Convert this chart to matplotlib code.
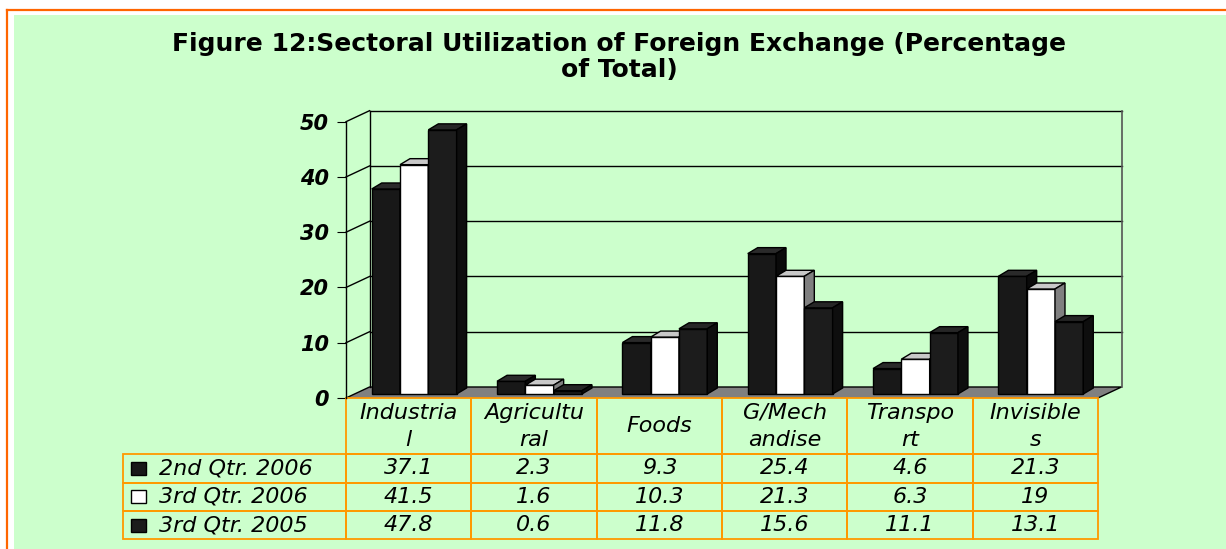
import numpy as np
import matplotlib
matplotlib.use('Agg')
import matplotlib.pyplot as plt
from matplotlib.patches import Polygon, Rectangle
from matplotlib.lines import Line2D
from matplotlib.table import Table

# ---------------------------------------------------------------------
# Data
categories = ['Industria\nl', 'Agricultu\nral', 'Foods', 'G/Mech\nandise', 'Transpo\nrt', 'Invisible\ns']
series = ['2nd Qtr. 2006', '3rd Qtr. 2006', '3rd Qtr. 2005']
q2_2006 = [37.1, 2.3, 9.3, 25.4, 4.6, 21.3]
q3_2006 = [41.5, 1.6, 10.3, 21.3, 6.3, 19]
q3_2005 = [47.8, 0.6, 11.8, 15.6, 11.1, 13.1]
yticks = [0, 10, 20, 30, 40, 50]

title = 'Figure 12:Sectoral Utilization of Foreign Exchange (Percentage\nof Total)'

# ---------------------------------------------------------------------
# Styles: (front, top, side) per series
front_colors = ['#181818', '#ffffff', '#1c1c1c']
top_colors = ['#2a2a2a', '#c8c8c8', '#262626']
side_colors = ['#0a0a0a', '#808080', '#0e0e0e']
GREEN = '#CCFFCC'
ORANGE = '#FF9900'
FRAME = '#FF6600'

# Layout in pixels (figure is 1226x549 at dpi 100)
W, H = 1226, 549
AX_L, AX_R = 346, 1098
AX_T, AX_B = 121.7, 398
BACK_PX = (23.5, 11.0)     # offset of back wall
BAR_OFF_PX = (5.5, 4.0)    # front face of bars sits a bit behind the front plane
DEPTH_PX = (10.0, 6.0)     # bar depth
BAR_W_PX = 28.3

fig = plt.figure(figsize=(W / 100, H / 100), dpi=100)
fig.patch.set_facecolor('white')

# green panel + orange frame
fig.patches.append(Rectangle((14 / W, 0), 1 - 14 / W, 1 - 15 / H, transform=fig.transFigure,
                             facecolor=GREEN, edgecolor='none', zorder=-5))
fig.lines.append(Line2D([7 / W, 1], [1 - 10 / H, 1 - 10 / H], transform=fig.transFigure,
                        color=FRAME, lw=1.6, zorder=-4))
fig.lines.append(Line2D([7 / W, 7 / W], [0, 1 - 10 / H], transform=fig.transFigure,
                        color=FRAME, lw=1.6, zorder=-4))

fig.text(619 / W, 1 - 57 / H, title, ha='center', va='center',
         fontsize=18, fontweight='bold', linespacing=1.1)

ax = fig.add_axes((AX_L / W, 1 - AX_B / H, (AX_R - AX_L) / W, (AX_B - AX_T) / H))
ax.set_facecolor('none')
ncat = len(categories)
ax.set_xlim(0, ncat)
ax.set_ylim(0, 50)

sx = (AX_R - AX_L) / ncat
sy = (AX_B - AX_T) / 50.
bx, by = BACK_PX[0] / sx, BACK_PX[1] / sy
ox, oy = BAR_OFF_PX[0] / sx, BAR_OFF_PX[1] / sy
dx, dy = DEPTH_PX[0] / sx, DEPTH_PX[1] / sy
bw = BAR_W_PX / sx

# ---------- floor and back wall
ax.add_patch(Polygon([(0, 0), (ncat, 0), (ncat + bx, by), (bx, by)],
                     facecolor='#808080', edgecolor='none', clip_on=False, zorder=1))
ax.plot([0, bx, ncat + bx, ncat], [0, by, by, 0], color='black', lw=1, clip_on=False, zorder=1.5)
for k in yticks[1:]:
    ax.plot([bx, ncat + bx], [k + by, k + by], color='black', lw=1, clip_on=False, zorder=1.5)
for k in yticks[1:]:
    ax.plot([0, bx], [k, k + by], color='black', lw=1, clip_on=False, zorder=1.5)
ax.plot([bx, bx], [by, 50 + by], color='black', lw=1, clip_on=False, zorder=1.5)
ax.plot([ncat + bx, ncat + bx], [by, 50 + by], color='#555555', lw=1.2, clip_on=False, zorder=1.5)

# ---------- 3D bars
xc = np.arange(ncat) + 0.5
for j, vals in enumerate([q2_2006, q3_2006, q3_2005]):
    x = xc + (j - 1) * bw + ox
    rects = ax.bar(x, vals, bw, bottom=oy, color=front_colors[j], edgecolor='black',
                   lw=1, clip_on=False, zorder=3 + j)
    for r in rects:
        x0 = r.get_x()
        x1 = x0 + r.get_width()
        top = r.get_y() + r.get_height()
        ax.add_patch(Polygon([(x0, top), (x1, top), (x1 + dx, top + dy), (x0 + dx, top + dy)],
                             facecolor=top_colors[j], edgecolor='black', lw=1,
                             clip_on=False, zorder=3 + j))
        ax.add_patch(Polygon([(x1, oy), (x1 + dx, oy + dy), (x1 + dx, top + dy), (x1, top)],
                             facecolor=side_colors[j], edgecolor='black', lw=1,
                             clip_on=False, zorder=3 + j))

# ---------- axes styling
for s in ('top', 'right', 'bottom'):
    ax.spines[s].set_visible(False)
ax.spines['left'].set_linewidth(1)
ax.set_xticks([])
ax.set_yticks(yticks)
ax.tick_params(axis='y', length=6.8, width=0.8, pad=5.5, labelsize=15)
for lab in ax.get_yticklabels():
    lab.set_fontweight('bold')
    lab.set_fontstyle('italic')

# ---------- data table (cell sizes in axes units; bbox covers the value grid only)
TAB_B = 539.2
HEAD_PX, ROW_PX, LAB_PX = 56.3, 28.3, 223
axw, axh = AX_R - AX_L, AX_B - AX_T
tab = Table(ax, bbox=[0, -(TAB_B - AX_B) / axh, 1, (TAB_B - AX_B) / axh])
for c, name in enumerate(categories):
    tab.add_cell(0, c, width=1 / ncat, height=HEAD_PX / axh, text=name, loc='center',
                 facecolor='none', edgecolor=ORANGE)
rows = [q2_2006, q3_2006, q3_2005]
for r, vals in enumerate(rows):
    cell = tab.add_cell(r + 1, -1, width=LAB_PX / axw, height=ROW_PX / axh, text=series[r],
                        loc='left', facecolor='none', edgecolor=ORANGE)
    cell.PAD = 0.16
    for c, v in enumerate(vals):
        tab.add_cell(r + 1, c, width=1 / ncat, height=ROW_PX / axh, text=f'{v:g}', loc='center',
                     facecolor='none', edgecolor=ORANGE)
tab.auto_set_font_size(False)
tab.set_fontsize(16)
for cell in tab.get_celld().values():
    cell.set_linewidth(1.3)
    cell.get_text().set_fontstyle('italic')
    cell.get_text().set_linespacing(1.45)
tab.set_zorder(2)
ax.add_table(tab)
tab.set_clip_on(False)

# legend swatches in the row label cells
for r in range(len(series)):
    ymid = AX_B + HEAD_PX + ROW_PX * (r + 0.5)
    ax.add_patch(Rectangle(((131 - AX_L) / axw, (AX_B - ymid - 6.5) / axh), 15 / axw, 13 / axh,
                           transform=ax.transAxes, facecolor=front_colors[r], edgecolor='black',
                           lw=1, clip_on=False, zorder=5))

fig.savefig('out.png', dpi=100)
